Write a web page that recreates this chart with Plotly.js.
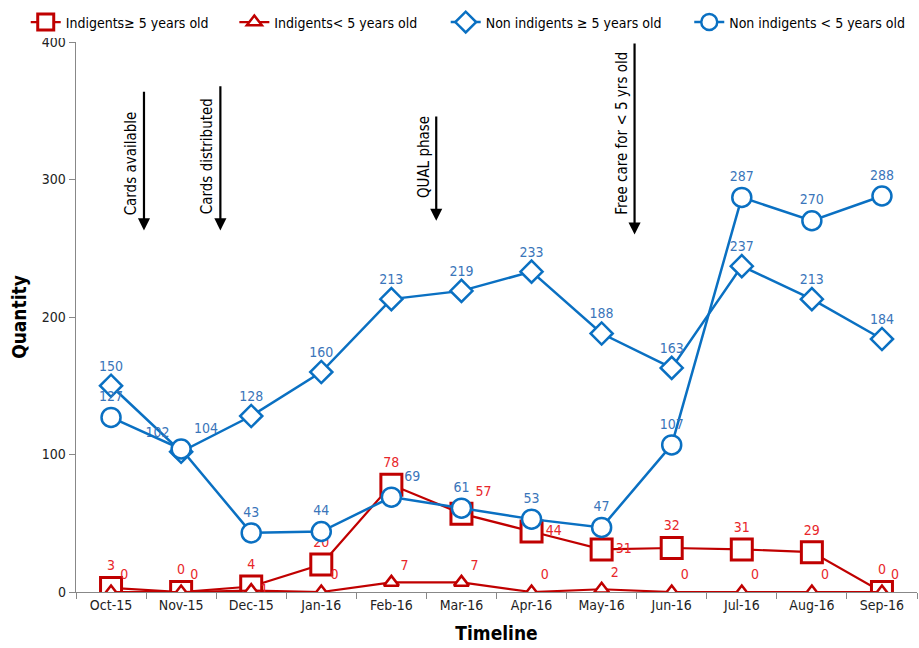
<!DOCTYPE html>
<html><head><meta charset="utf-8">
<script src="https://cdn.plot.ly/plotly-3.0.1.min.js"></script>
<style>html,body{margin:0;padding:0;background:#fff}</style>
</head><body>
<div id="chart" style="width:919px;height:648px"></div>
<script>
const months = ['Oct-15','Nov-15','Dec-15','Jan-16','Feb-16','Mar-16','Apr-16','May-16','Jun-16','Jul-16','Aug-16','Sep-16'];
const indigentsGE5 = [3,0,4,20,78,57,44,31,32,31,29,0];
const indigentsLT5 = [0,0,1,0,7,7,0,2,0,0,0,0];
const nonIndigentsGE5 = [150,102,128,160,213,219,233,188,163,237,213,184];
const nonIndigentsLT5 = [127,104,43,44,69,61,53,47,107,287,270,288];
const seriesNames = ['Indigents\u2265 5 years old','Indigents< 5 years old','Non indigents \u2265 5 years old','Non indigents < 5 years old'];

const RED = '#C00000', RED_T = '#E8262A', BLUE = '#0A70C2', BLUE_T = '#3A75BA';
const FONT = 'Liberation Sans Narrow, Arial Narrow, DejaVu Sans Condensed, sans-serif';

const posSq = ['top center','top center','top center','top center','top center','top right','middle right','middle right','top center','top center','top center','top center'];
const posTri = ['top right','top right','middle right','top right','top right','top right','top right','top right','top right','top right','top right','top right'];
const posDia = ['top center','top left','top center','top center','top center','top center','top center','top center','top center','top center','top center','top center'];
const posCir = ['top center','top right','top center','top center','top right','top center','top center','top center','top center','top center','top center','top center'];

const traces = [
  {x: months, y: indigentsGE5, name: seriesNames[0], mode: 'lines+markers+text', legend:'legend',
   text: indigentsGE5.map(String), textposition: posSq, textfont:{color:RED_T,size:14,family:FONT},
   line:{color:RED,width:2.2}, marker:{symbol:'square',size:21,color:'#fff',line:{color:RED,width:3}}},
  {x: months, y: indigentsLT5, name: seriesNames[1], mode: 'lines+markers+text', legend:'legend2',
   text: indigentsLT5.map(String), textposition: posTri, textfont:{color:RED_T,size:14,family:FONT},
   line:{color:RED,width:2.2}, marker:{symbol:'triangle-up',size:13,color:'#fff',line:{color:RED,width:2.5}}},
  {x: months, y: nonIndigentsGE5, name: seriesNames[2], mode: 'lines+markers+text', legend:'legend3',
   text: nonIndigentsGE5.map(String), textposition: posDia, textfont:{color:BLUE_T,size:14,family:FONT},
   line:{color:BLUE,width:2.5}, marker:{symbol:'diamond',size:17,color:'#fff',line:{color:BLUE,width:2.5}}},
  {x: months, y: nonIndigentsLT5, name: seriesNames[3], mode: 'lines+markers+text', legend:'legend4',
   text: nonIndigentsLT5.map(String), textposition: posCir, textfont:{color:BLUE_T,size:14,family:FONT},
   line:{color:BLUE,width:2.5}, marker:{symbol:'circle',size:19,color:'#fff',line:{color:BLUE,width:2.5}}}
];

function arrow(x, y0, y1){
  return {x:x, y:y1, ax:x, ay:y0, xref:'x', yref:'y', axref:'x', ayref:'y', text:'', showarrow:true,
          arrowhead:2, arrowsize:1.1, arrowwidth:2.2, arrowcolor:'#000'};
}
function vtext(x, y, t){
  return {x:x, y:y, xref:'x', yref:'y', text:t, showarrow:false, textangle:-90,
          font:{family:FONT, size:15, color:'#000'}};
}
function leg(x){
  return {orientation:'h', xref:'container', yref:'container', x:x, y:0.99, xanchor:'left', yanchor:'top',
          font:{family:FONT, size:14, color:'#000'}, itemwidth:30};
}

const layout = {
  width:919, height:648,
  margin:{l:76, r:2, t:42, b:56},
  paper_bgcolor:'#fff', plot_bgcolor:'#fff',
  font:{family:FONT, color:'#000'},
  showlegend:true,
  legend:leg(0.028), legend2:leg(0.255), legend3:leg(0.485), legend4:leg(0.75),
  xaxis:{type:'category', range:[-0.5,11.5], showgrid:false, zeroline:false,
         showline:true, linecolor:'#888', linewidth:1.3, ticks:'outside', tickson:'boundaries', ticklen:6, tickcolor:'#888',
         tickfont:{family:FONT, size:14, color:'#222'},
         title:{text:'<b>Timeline</b>', font:{family:FONT, size:19, color:'#000'}, standoff:14}},
  yaxis:{range:[0,400], tickvals:[0,100,200,300,400], showgrid:false, zeroline:false,
         showline:true, linecolor:'#888', linewidth:1.3, ticks:'outside', ticklen:6, tickcolor:'#888',
         tickfont:{family:FONT, size:14, color:'#222'},
         title:{text:'<b>Quantity</b>', font:{family:FONT, size:19, color:'#000'}, standoff:10}},
  annotations:[
    arrow(0.47,365,263), vtext(0.29,312,'Cards available'),
    arrow(1.56,369,263), vtext(1.37,317,'Cards distributed'),
    arrow(4.64,347,270), vtext(4.46,316,'QUAL phase'),
    arrow(7.47,400,260), vtext(7.29,334,'Free care for &lt; 5 yrs old')
  ]
};

Plotly.newPlot('chart', traces, layout, {displayModeBar:false, staticPlot:true});
</script>
</body></html>
